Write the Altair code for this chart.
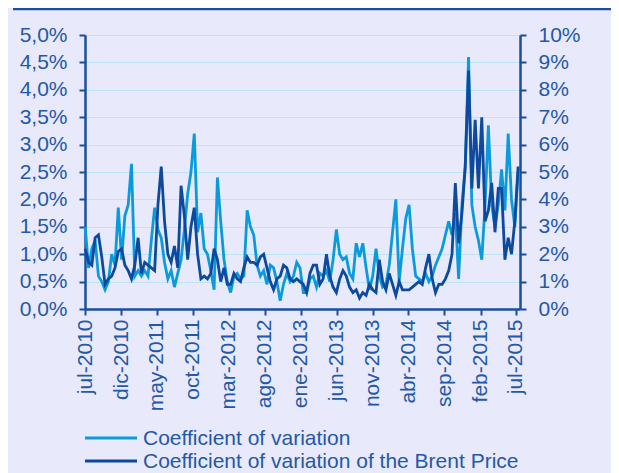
import altair as alt
import pandas as pd

# Coefficient of variation (left axis, %), biweekly from 2010-07-02
cv = [1.5, 0.75, 1.1, 1.25, 0.6, 0.5, 0.35, 0.5, 1.0, 0.8,
      1.85, 0.9, 1.7, 1.9, 2.65, 0.6, 0.7, 0.6, 0.7, 0.6,
      1.25, 1.85, 1.45, 1.3, 0.85, 0.55, 0.7, 0.4, 0.65, 0.9,
      1.45, 2.1, 2.5, 3.2, 1.4, 1.75, 1.1, 1.0, 0.7, 0.35,
      2.4, 1.6, 0.9, 0.5, 0.3, 0.6, 0.65, 0.55, 0.6, 1.8,
      1.5, 1.35, 0.8, 0.6, 0.7, 0.45, 0.8, 0.75, 0.5, 0.15,
      0.45, 0.65, 0.5, 0.6, 0.85, 0.75, 0.3, 0.3, 0.55, 0.6,
      0.4, 0.65, 0.6, 0.7, 0.5, 0.9, 1.45, 1.0, 0.9, 0.95,
      0.65, 0.55, 1.2, 0.95, 1.2, 0.75, 0.35, 0.6, 1.1, 0.6,
      0.4, 0.45, 0.8, 1.4, 2.0, 0.5, 1.1, 1.65, 1.9, 1.1,
      0.6, 0.55, 0.5, 0.65, 0.5, 0.6, 0.8, 0.95, 1.1, 1.35,
      1.6, 1.35, 1.75, 0.55, 1.9, 2.6, 4.6, 1.9, 1.5, 1.25,
      0.9, 1.9, 3.35, 1.9, 1.5, 1.9, 2.55, 1.8, 3.2, 2.0,
      1.5, 2.5]

# Coefficient of variation of the Brent price (right axis, %)
brent_half = [1.1, 0.85, 0.8, 1.3, 1.35, 0.95, 0.45, 0.55, 0.6, 0.75,
              1.05, 1.1, 0.8, 0.7, 0.55, 0.8, 1.3, 0.65, 0.85, 0.8,
              0.75, 0.7, 1.9, 2.6, 1.6, 1.0, 0.85, 1.15, 0.75, 2.25,
              1.7, 0.9, 1.5, 1.85, 1.0, 0.55, 0.6, 0.55, 0.65, 1.1,
              0.9, 0.5, 0.75, 0.45, 0.45, 0.65, 0.55, 0.5, 0.75, 0.95,
              0.85, 0.85, 0.8, 0.95, 1.0, 0.75, 0.5, 0.35, 0.55, 0.6,
              0.8, 0.75, 0.55, 0.5, 0.55, 0.5, 0.45, 0.3, 0.65, 0.8,
              0.8, 0.45, 0.55, 1.0, 0.6, 0.4, 0.3, 0.55, 0.7, 0.6,
              0.4, 0.3, 0.35, 0.2, 0.3, 0.25, 0.45, 0.35, 0.3, 0.9,
              0.5, 0.35, 0.65, 0.45, 0.25, 0.5, 0.35, 0.35, 0.35, 0.4,
              0.45, 0.5, 0.45, 0.75, 1.0, 0.55, 0.3, 0.45, 0.45, 0.55,
              0.7, 1.0, 2.3, 1.2, 1.75, 2.6, 4.35, 2.2, 3.45, 2.2,
              3.5, 1.6, 1.8, 2.3, 1.4, 2.2, 2.2, 0.9, 1.3, 1.0,
              1.6, 2.6]
brent = [round(v * 2, 2) for v in brent_half]

tick_dates = ["2010-07-01", "2010-12-01", "2011-05-01", "2011-10-01", "2012-03-01",
              "2012-08-01", "2013-01-01", "2013-06-01", "2013-11-01", "2014-04-01",
              "2014-09-01", "2015-02-01", "2015-07-01"]
left_ticks = [0, 0.5, 1, 1.5, 2, 2.5, 3, 3.5, 4, 4.5, 5]
right_ticks = [0, 1, 2, 3, 4, 5, 6, 7, 8, 9, 10]
series_names = ["Coefficient of variation", "Coefficient of variation of the Brent Price"]
series_colors = ["#0A9BDD", "#0D4A9E"]

dates = pd.date_range("2010-07-02", periods=len(cv), freq="14D").strftime("%Y-%m-%d")
df = pd.DataFrame({"date": dates, "cv": cv, "brent": brent})

FONT = "Liberation Sans"
TXT = "#2359A8"
AX = "#1A4F9F"
FS = 21
LW = 2.8


def dt(s):
    y, m, d = map(int, s.split("-"))
    return alt.DateTime(year=y, month=m, date=d, utc=True)


months_expr = "['ene','feb','mar','abr','may','jun','jul','ago','sep','oct','nov','dic']"
xenc = alt.X("date:T",
             scale=alt.Scale(type="utc", domain=[dt("2010-07-01"), dt("2015-07-18")]),
             axis=alt.Axis(values=[dt(s) for s in tick_dates], title=None,
                           labelExpr=months_expr + "[utcmonth(datum.value)] + '-' + utcyear(datum.value)",
                           labelAngle=-90, labelFont=FONT, labelFontSize=FS, labelColor=TXT,
                           labelPadding=4, tickSize=6, tickWidth=2, tickColor=AX,
                           domainColor=AX, domainWidth=2.5, grid=False, labelOverlap=False,
                           labelFlush=False))

left = alt.Chart(df).mark_line(strokeWidth=LW, color=series_colors[0]).encode(
    x=xenc,
    y=alt.Y("cv:Q", scale=alt.Scale(domain=[0, 5], nice=False),
            axis=alt.Axis(values=left_ticks, title=None, orient="left",
                          labelExpr="replace(format(datum.value, '.1f'), '.', ',') + '%'",
                          labelFont=FONT, labelFontSize=FS, labelColor=TXT, labelPadding=12,
                          tickSize=6, tickWidth=2, tickColor=AX, domainColor=AX, domainWidth=2.5,
                          grid=True, gridColor="#BDE3F6", gridWidth=1.2)),
)

right = alt.Chart(df).mark_line(strokeWidth=LW, color=series_colors[1]).encode(
    x=xenc,
    y=alt.Y("brent:Q", scale=alt.Scale(domain=[0, 10], nice=False),
            axis=alt.Axis(values=right_ticks, title=None, orient="right",
                          labelExpr="format(datum.value, 'd') + '%'",
                          labelFont=FONT, labelFontSize=FS, labelColor=TXT, labelPadding=12,
                          tickSize=6, tickWidth=2, tickColor=AX, domainColor=AX, domainWidth=2.5,
                          grid=False)),
)

one = pd.DataFrame({"k": [0]})
topline = alt.Chart(one).mark_rule(color=AX, strokeWidth=2.5).encode(
    x=alt.value(-72), x2=alt.value(534), y=alt.value(-26))

# manual legend (two rows), one datum per row
legend_layers = []
for i, (name, col) in enumerate(zip(series_names, series_colors)):
    ypos = 403 + 23 * i
    ldf = pd.DataFrame({"name": [name]})
    legend_layers.append(
        alt.Chart(ldf).mark_rule(color=col, strokeWidth=LW).encode(
            x=alt.value(0), x2=alt.value(52), y=alt.value(ypos)))
    legend_layers.append(
        alt.Chart(ldf).mark_text(align="left", baseline="middle", font=FONT, fontSize=FS,
                                 color=TXT).encode(
            x=alt.value(58), y=alt.value(ypos + 1), text="name:N"))

chart = alt.layer(left, right, topline, *legend_layers).resolve_scale(y="independent").properties(
    width=435, height=274,
    background="#E8E9FA",
    padding={"left": 77, "top": 27, "right": 91, "bottom": 164},
    autosize=alt.AutoSizeParams(type="none"),
).configure_view(stroke=None)

chart.save("out.html", embed_options={"renderer": "svg", "actions": False})
